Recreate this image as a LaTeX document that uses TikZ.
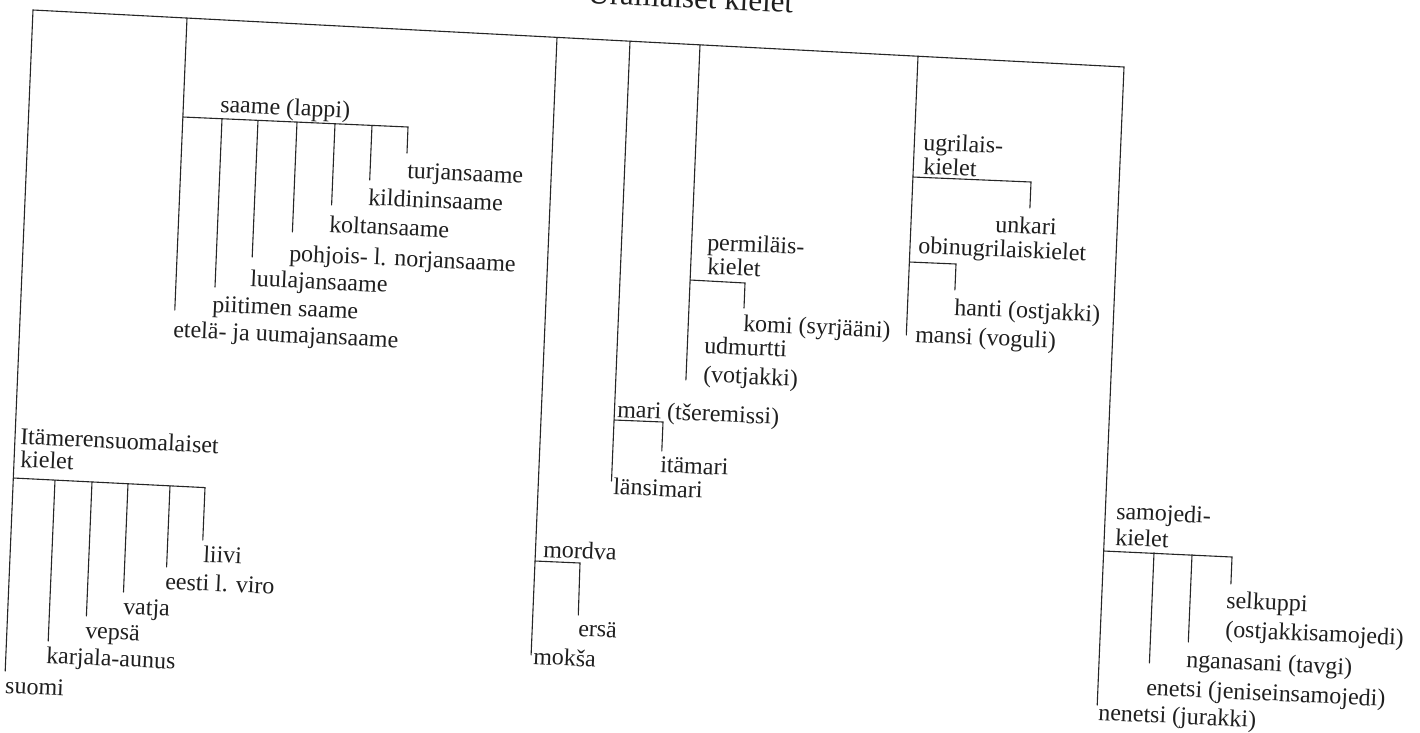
\documentclass[tikz,border=0pt]{standalone}
\usepackage{fontspec}
\setmainfont{Liberation Serif}
\newcommand\labfont{\fontsize{24}{28}\selectfont}
\newcommand\titlefont{\fontsize{31}{34}\selectfont}
\begin{document}
\begin{tikzpicture}[x=1pt,y=-1pt,
  lab/.style={anchor=base west, inner sep=0pt, outer sep=0pt, rotate=-2.7, font=\labfont, text=black!88},
  tree/.style={draw=black!85, line width=1.1pt, line cap=round, line join=miter}]
\useasboundingbox (0,0) rectangle (1420,732);
\fill[white] (0,0) rectangle (1420,732);

% title (cut by the top edge)
\node[lab, anchor=base, font=\titlefont] (title) at (690,8) {Uralilaiset kielet};

% top bar
\coordinate (t1) at (33,10);
\coordinate (t2) at (187,18);
\coordinate (t3) at (557,37.4);
\coordinate (t4) at (630,41.2);
\coordinate (t5) at (700,44.8);
\coordinate (t6) at (918,56.2);
\coordinate (t7) at (1124,67);

% ---------- Itämerensuomalaiset ----------
\coordinate (b1) at (5.2,671);
\coordinate (f0) at (13.3,478);
\coordinate (f1) at (55,480.1);  \coordinate (f1e) at (48.2,641);
\coordinate (f2) at (92,481.9);  \coordinate (f2e) at (86.4,616);
\coordinate (f3) at (128,483.7); \coordinate (f3e) at (123.5,592);
\coordinate (f4) at (170,485.8); \coordinate (f4e) at (166.6,567);
\coordinate (f5) at (205,487.6); \coordinate (f5e) at (202.8,540);

% ---------- saame ----------
\coordinate (b2) at (174.8,310);
\coordinate (s0) at (182.8,117);
\coordinate (s1) at (222,118.7); \coordinate (s1e) at (215,287);
\coordinate (s2) at (258,120.3); \coordinate (s2e) at (252.2,257);
\coordinate (s3) at (297,122);   \coordinate (s3e) at (292.4,232);
\coordinate (s4) at (335,123.7); \coordinate (s4e) at (331.6,205);
\coordinate (s5) at (372,125.3); \coordinate (s5e) at (369.7,180);
\coordinate (s6) at (408,127);   \coordinate (s6e) at (407,153);

% ---------- mordva ----------
\coordinate (b3) at (531.1,655);
\coordinate (m0) at (535,561);
\coordinate (m1) at (580,563);   \coordinate (m1e) at (578.3,615);

% ---------- mari ----------
\coordinate (b4) at (611.5,481);
\coordinate (r0) at (614.1,420);
\coordinate (r1) at (663,422);   \coordinate (r1e) at (661.8,451);

% ---------- permiläiskielet ----------
\coordinate (b5) at (685.9,380);
\coordinate (p0) at (690.1,280);
\coordinate (p1) at (745,283);   \coordinate (p1e) at (744,308);

% ---------- ugrilaiskielet ----------
\coordinate (b6) at (906.3,335);
\coordinate (u0) at (912.9,177);
\coordinate (u1) at (1031,182);  \coordinate (u1e) at (1029.9,208);
\coordinate (o0) at (909.4,262);
\coordinate (o1) at (956,264);   \coordinate (o1e) at (954.9,290);

% ---------- samojedikielet ----------
\coordinate (b7) at (1097.2,705);
\coordinate (y0) at (1103.7,551);
\coordinate (y1) at (1154,552.6); \coordinate (y1e) at (1149.4,663);
\coordinate (y2) at (1192,554.6); \coordinate (y2e) at (1188.3,642);
\coordinate (y3) at (1232,557);   \coordinate (y3e) at (1230.9,584);

% connectors
\draw[tree] (b1) -- (t1) -- (t7) -- (b7);
\draw[tree] (t2) -- (b2);
\draw[tree] (t3) -- (b3);
\draw[tree] (t4) -- (b4);
\draw[tree] (t5) -- (b5);
\draw[tree] (t6) -- (b6);

\draw[tree] (f0) -- (f5) -- (f5e);
\draw[tree] (f1) -- (f1e);
\draw[tree] (f2) -- (f2e);
\draw[tree] (f3) -- (f3e);
\draw[tree] (f4) -- (f4e);

\draw[tree] (s0) -- (s6) -- (s6e);
\draw[tree] (s1) -- (s1e);
\draw[tree] (s2) -- (s2e);
\draw[tree] (s3) -- (s3e);
\draw[tree] (s4) -- (s4e);
\draw[tree] (s5) -- (s5e);

\draw[tree] (m0) -- (m1) -- (m1e);
\draw[tree] (r0) -- (r1) -- (r1e);
\draw[tree] (p0) -- (p1) -- (p1e);
\draw[tree] (u0) -- (u1) -- (u1e);
\draw[tree] (o0) -- (o1) -- (o1e);

\draw[tree] (y0) -- (y3) -- (y3e);
\draw[tree] (y1) -- (y1e);
\draw[tree] (y2) -- (y2e);

% labels
\node[lab] (itam1) at (20,444) {Itämerensuomalaiset};
\node[lab] (itam2) at (20,467) {kielet};
\node[lab] (liivi) at (203,562) {liivi};
\node[lab] (eesti) at (165,589) {eesti l. viro};
\node[lab] (vatja) at (123,614) {vatja};
\node[lab] (vepsa) at (85,638) {vepsä};
\node[lab] (karjala) at (46,663) {karjala-aunus};
\node[lab] (suomi) at (5,693) {suomi};

\node[lab] (saame) at (220,112) {saame (lappi)};
\node[lab] (turja) at (407,178) {turjansaame};
\node[lab] (kildin) at (368,205) {kildininsaame};
\node[lab] (kolta) at (329,232) {koltansaame};
\node[lab] (pohjois) at (289,261) {pohjois- l. norjansaame};
\node[lab] (luulaja) at (250,286) {luulajansaame};
\node[lab] (piitime) at (212,312) {piitimen saame};
\node[lab] (etela) at (173,337) {etelä- ja uumajansaame};

\node[lab] (mordva) at (543,557) {mordva};
\node[lab] (ersa) at (578,636) {ersä};
\node[lab] (moksa) at (533,664) {mokša};

\node[lab] (mari) at (617,417) {mari (tšeremissi)};
\node[lab] (itamari) at (660,472) {itämari};
\node[lab] (lansimari) at (613,494) {länsimari};

\node[lab] (perm1) at (707,250) {permiläis-};
\node[lab] (perm2) at (707,274) {kielet};
\node[lab] (komi) at (743,331) {komi (syrjääni)};
\node[lab] (udm1) at (704,353) {udmurtti};
\node[lab] (udm2) at (703,382) {(votjakki)};

\node[lab] (ugri1) at (923,150) {ugrilais-};
\node[lab] (ugri2) at (923,174) {kielet};
\node[lab] (unkari) at (995,232) {unkari};
\node[lab] (obin) at (918,253) {obinugrilaiskielet};
\node[lab] (hanti) at (954,315) {hanti (ostjakki)};
\node[lab] (mansi) at (915,342) {mansi (voguli)};

\node[lab] (samo1) at (1116,519) {samojedi-};
\node[lab] (samo2) at (1115,545) {kielet};
\node[lab] (selk1) at (1226,608) {selkuppi};
\node[lab] (selk2) at (1225,637) {(ostjakkisamojedi)};
\node[lab] (ngana) at (1186,667) {nganasani (tavgi)};
\node[lab] (enetsi) at (1146,695) {enetsi (jeniseinsamojedi)};
\node[lab] (nenetsi) at (1098,720) {nenetsi (jurakki)};
\end{tikzpicture}
\end{document}
